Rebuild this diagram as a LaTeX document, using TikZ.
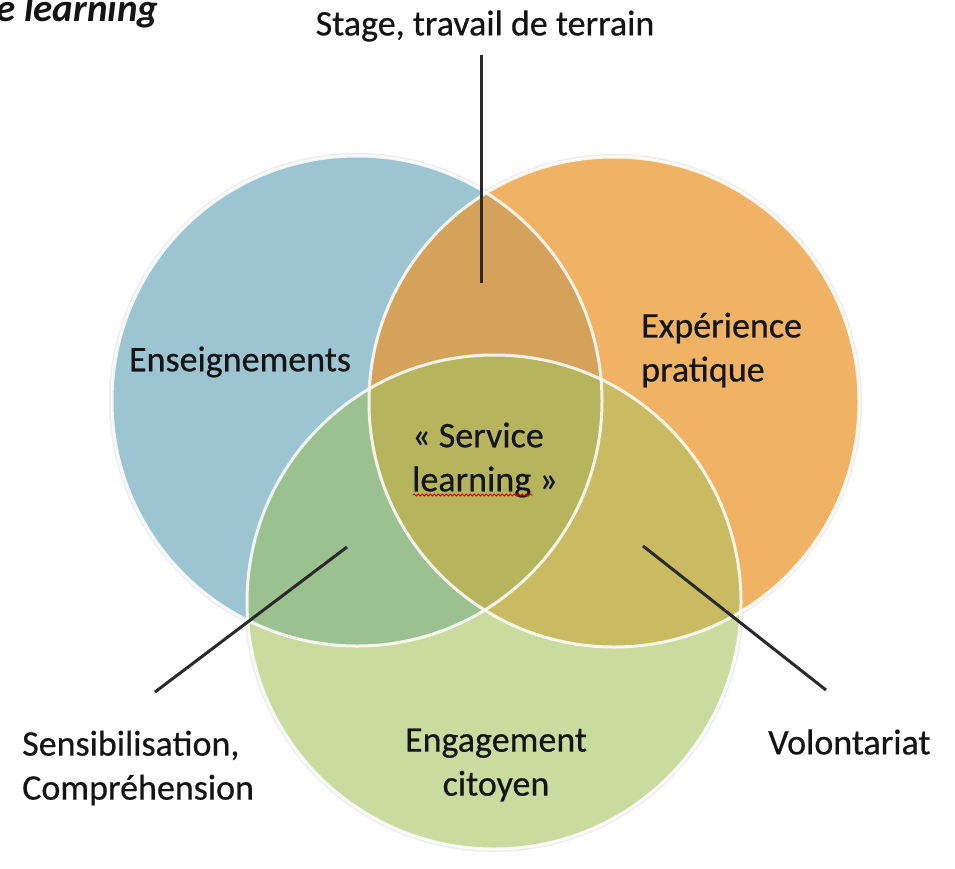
\documentclass[tikz,border=0pt]{standalone}
\usepackage{fontspec}
\setmainfont{Carlito}
\newfontfamily\lblfont{Carlito}[FakeBold=0.5]
\usetikzlibrary{decorations.pathmorphing}
\definecolor{cblue}{HTML}{9DC4D1}
\definecolor{corange}{HTML}{F0B366}
\definecolor{cgreen}{HTML}{CADBA0}
\definecolor{cbo}{HTML}{D5A25C}
\definecolor{cbg}{HTML}{9CC191}
\definecolor{cog}{HTML}{C9BB62}
\definecolor{cbog}{HTML}{B7B45E}
\definecolor{cline}{HTML}{2A2A2A}
\begin{document}
\begin{tikzpicture}[x=1pt,y=-1pt,
  lbl/.style={font=\lblfont\fontsize{36}{44}\selectfont, inner sep=0pt, text=black!92, align=left},
  rim/.style={draw=white, line width=3pt, opacity=0.85},
  shade/.style={fill=black, opacity=0.07},
  leader/.style={draw=cline, line width=3pt}]
\useasboundingbox (0,0) rectangle (955,869);
\fill[white] (0,0) rectangle (955,869);
\coordinate (B) at (357,401);
\coordinate (O) at (614,402);
\coordinate (G) at (494,602);
% soft shadows
\begin{scope}[shift={(2,3)}]
\fill[shade] (B) circle (248pt);
\fill[shade] (O) circle (248pt);
\fill[shade] (G) circle (250pt);
\end{scope}
% circles
\fill[cblue] (B) circle (245pt);
\fill[corange] (O) circle (245pt);
\fill[cgreen] (G) circle (247pt);
\begin{scope}
\clip (O) circle (245pt);
\fill[cog] (G) circle (247pt);
\end{scope}
\begin{scope}
\clip (B) circle (245pt);
\fill[cbo] (O) circle (245pt);
\fill[cbg] (G) circle (247pt);
\clip (O) circle (245pt);
\fill[cbog] (G) circle (247pt);
\end{scope}
\draw[rim] (B) circle (245pt);
\draw[rim] (O) circle (245pt);
\draw[rim] (G) circle (247pt);
% labels
\node[lbl, font=\rmfamily\fontsize{39}{44}\selectfont\bfseries\itshape, anchor=base west] (title) at (-4,22) {e learning};
\node[lbl] (stage) at (485,26) {Stage, travail de terrain};
\node[lbl] (ens) at (240,362) {Enseignements};
\node[lbl, anchor=west] (exp) at (641,350) {Expérience\\pratique};
\node[lbl, anchor=west] (sl) at (412,460) {« Service\\learning »};
\node[lbl, anchor=west] (sens) at (22,768) {Sensibilisation,\\Compréhension};
\node[lbl, align=center] (eng) at (496,765) {Engagement\\citoyen};
\node[lbl, anchor=west] (vol) at (768,742) {Volontariat};
% spell-check squiggle
\coordinate (sq1) at (413,495);
\coordinate (sq2) at (533,495);
\draw[red!85!black, line width=0.8pt, decorate, decoration={snake, amplitude=1.1pt, segment length=4pt}] (sq1) -- (sq2);
% leaders
\coordinate (st1) at (481,55);
\coordinate (st2) at (481,283);
\coordinate (se1) at (347,547);
\coordinate (se2) at (155,692);
\coordinate (vo1) at (643,546);
\coordinate (vo2) at (826,690);
\draw[leader] (st1) -- (st2);
\draw[leader] (se1) -- (se2);
\draw[leader] (vo1) -- (vo2);
\end{tikzpicture}
\end{document}
